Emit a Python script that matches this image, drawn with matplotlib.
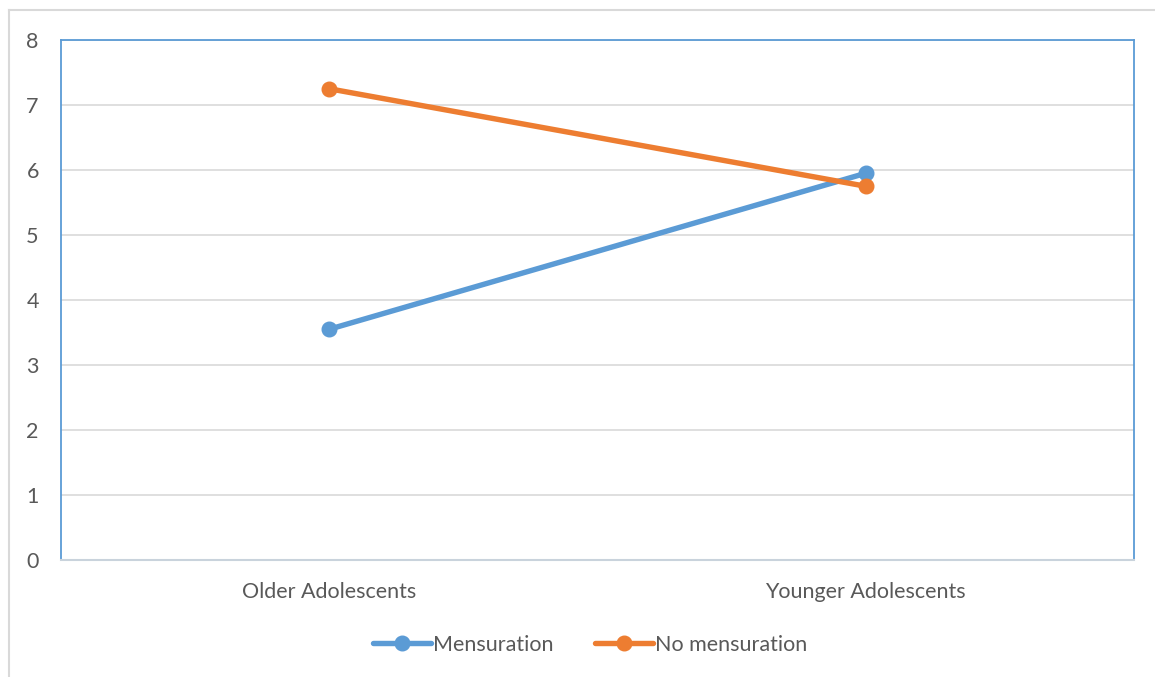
import matplotlib
matplotlib.use("Agg")
import matplotlib.pyplot as plt
from matplotlib.lines import Line2D

categories = ["Older Adolescents", "Younger Adolescents"]
mensuration = [3.55, 5.95]
no_mensuration = [7.25, 5.75]
yticks = [0, 1, 2, 3, 4, 5, 6, 7, 8]

plt.rcParams['font.family'] = ['Lato', 'DejaVu Sans']
W, H = 1155, 677
fig = plt.figure(figsize=(W/100, H/100), dpi=100)
ax = fig.add_axes([61/W, 1-560/H, (1134-61)/W, (560-40)/H])

x = list(range(len(categories)))
blue = "#5b9bd5"
orange = "#ed7d31"
ax.plot(x, mensuration, color=blue, lw=3.9, marker='o', ms=10.5, label="Mensuration", zorder=3, solid_capstyle='round')
ax.plot(x, no_mensuration, color=orange, lw=3.9, marker='o', ms=10.5, label="No mensuration", zorder=3, solid_capstyle='round')

ax.set_xlim(-0.5, 1.5)
ax.set_ylim(0, 8)
ax.set_yticks(yticks)
ax.set_xticks(x)
ax.set_xticklabels(categories)
ax.grid(axis='y', color='#d9d9d9', lw=1.2)
ax.set_axisbelow(True)
ax.tick_params(length=0, labelsize=15.5, colors='#595959')
ax.tick_params(axis='x', pad=16)
ax.tick_params(axis='y', pad=16)
for s in ['left', 'top', 'right']:
    ax.spines[s].set_color(blue)
    ax.spines[s].set_linewidth(1.3)
ax.spines['bottom'].set_color('#c9d3dc')
ax.spines['bottom'].set_linewidth(1.5)

leg = fig.legend(handles=ax.get_lines(), loc='center', bbox_to_anchor=(590/W, 1-645/H), ncol=2,
                 frameon=False, fontsize=15.5, handlelength=2.7, handletextpad=0.1, columnspacing=1.9,
                 labelcolor='#595959')

# outer chart border
fig.add_artist(Line2D([9/W, 9/W], [0, 1-10/H], color='#d9d9d9', lw=1.5, transform=fig.transFigure))
fig.add_artist(Line2D([9/W, 1], [1-10/H, 1-10/H], color='#d9d9d9', lw=1.5, transform=fig.transFigure))

fig.savefig("out.png", dpi=100)
